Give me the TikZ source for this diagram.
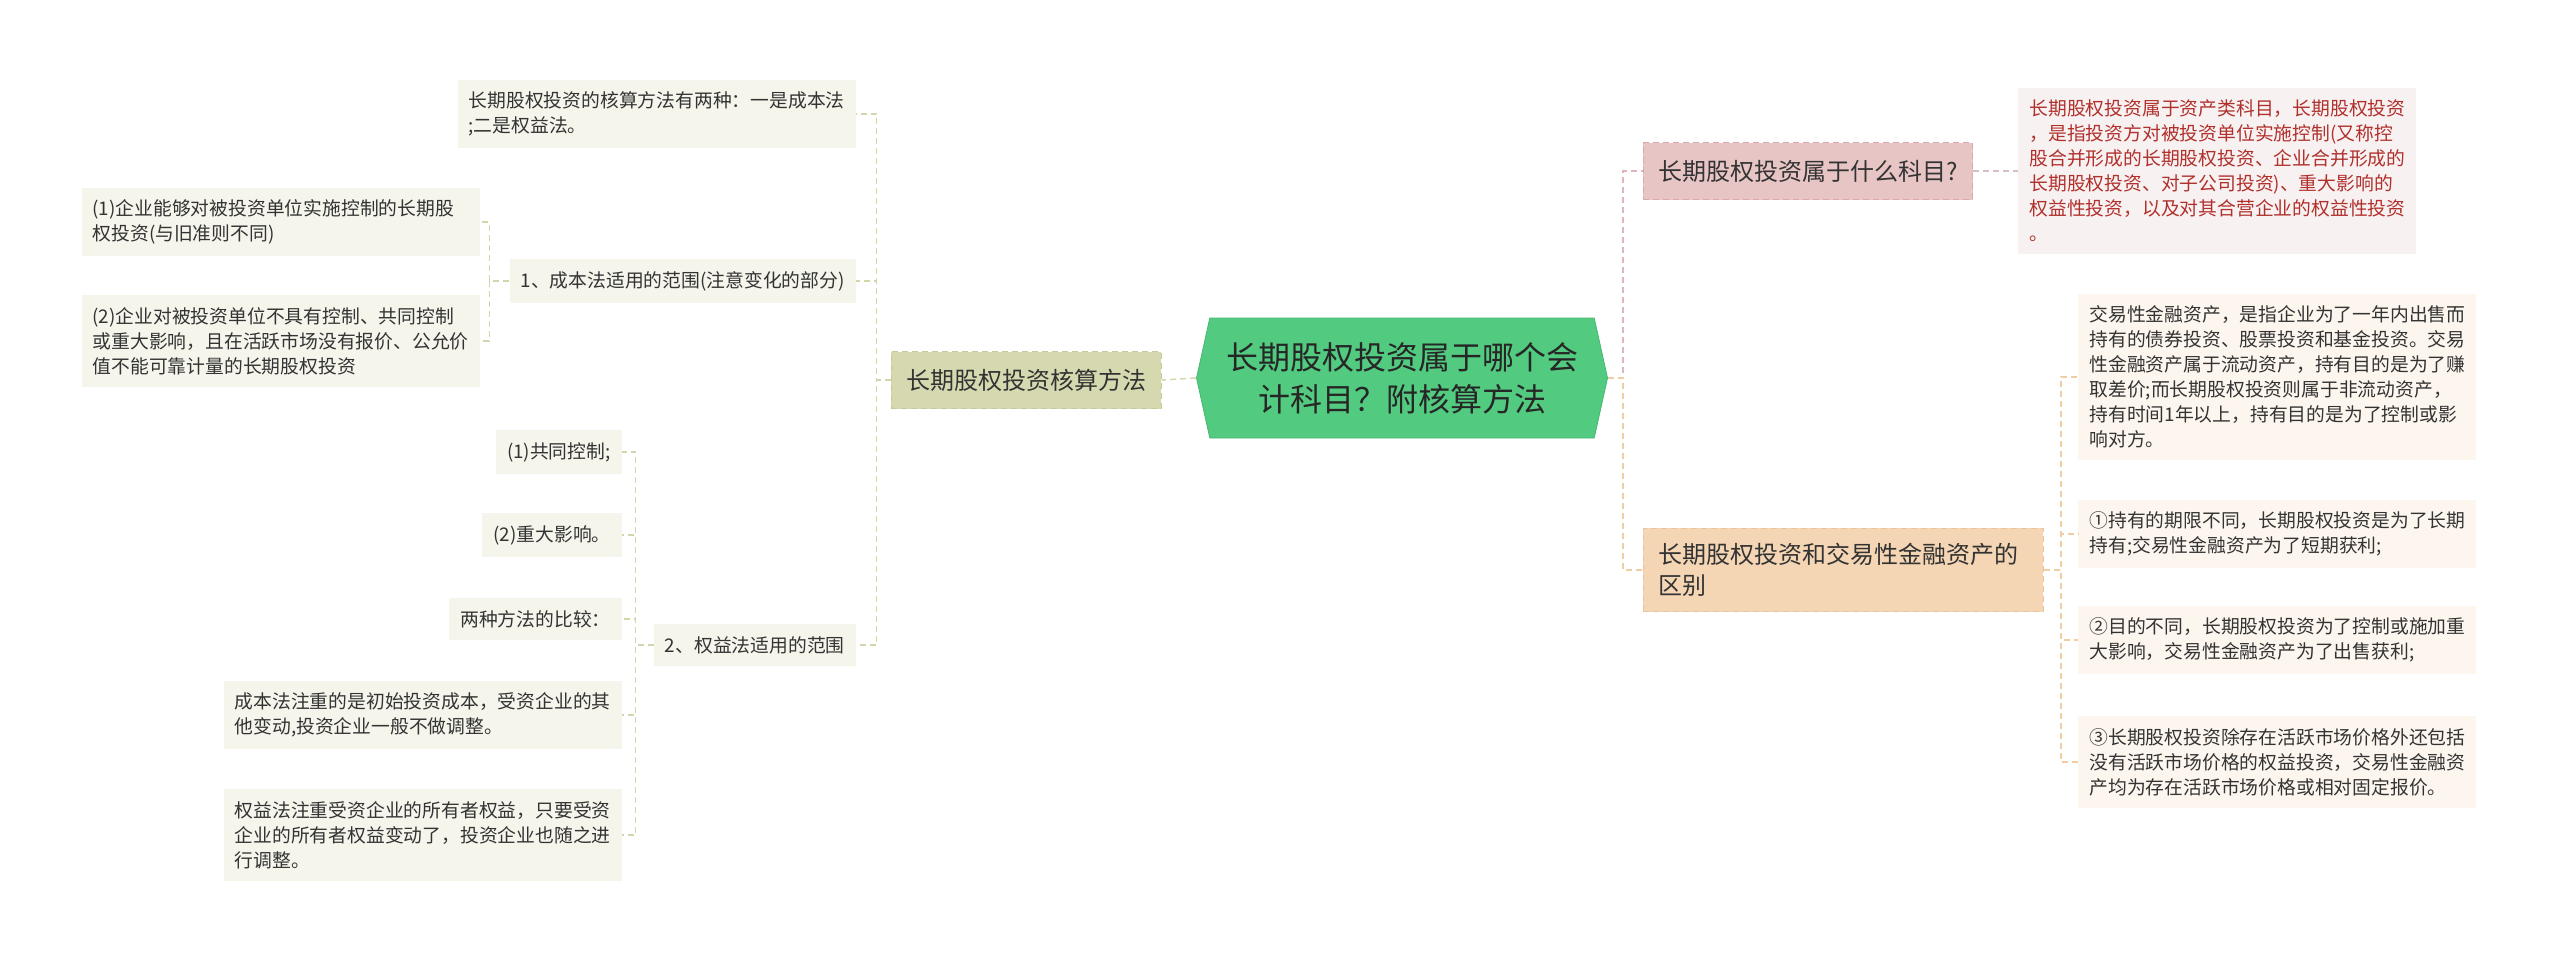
\documentclass[tikz,border=0pt]{standalone}
\usepackage{fontspec}
\setmainfont{Noto Sans CJK SC}
\usetikzlibrary{shapes.symbols}
\definecolor{ctrfill}{HTML}{52CA80}
\definecolor{ctrline}{HTML}{46B873}
\definecolor{olvfill}{HTML}{D6D9B0}
\definecolor{olvline}{HTML}{C6C99A}
\definecolor{oleaf}{HTML}{F5F5EC}
\definecolor{pnkfill}{HTML}{E8C5C5}
\definecolor{pnkline}{HTML}{D8A8AC}
\definecolor{rleaf}{HTML}{F8F1F1}
\definecolor{rtext}{HTML}{B0302C}
\definecolor{orgfill}{HTML}{F4D5B4}
\definecolor{orgline}{HTML}{EBC299}
\definecolor{gleaf}{HTML}{FDF6EE}
\definecolor{wireO}{HTML}{D3D6AB}
\definecolor{wireP}{HTML}{E0B6B9}
\definecolor{wireR}{HTML}{D5C0C1}
\definecolor{wireG}{HTML}{F0CDA3}

\begin{document}
\begin{tikzpicture}[
    x=0.5pt, y=-0.5pt,
    nd/.style={rectangle, inner xsep=5.5pt, inner ysep=6pt, align=left, text=black!80,
        font=\fontsize{9.4pt}{12.5pt}\selectfont, dash pattern=on 3pt off 2pt},
    wide/.style={text width=188pt},
    ctr/.style={signal, signal to=west and east, signal pointer angle=155, fill=ctrfill, draw=ctrline,
        minimum width=205.5pt, minimum height=60pt, align=center, text=black!85,
        font=\fontsize{16pt}{21pt}\selectfont},
    olv/.style={nd, fill=olvfill, draw=olvline, inner xsep=7.5pt, minimum height=28.5pt,
        font=\fontsize{12pt}{15.5pt}\selectfont},
    pnk/.style={olv, fill=pnkfill, draw=pnkline},
    org/.style={olv, fill=orgfill, draw=orgline, inner ysep=7.5pt, text width=185pt},
    oleafs/.style={nd, fill=oleaf, minimum height=21pt},
    rleafs/.style={nd, fill=rleaf, text=rtext},
    gleafs/.style={nd, fill=gleaf, wide},
    wire/.style={line width=0.7pt, dash pattern=on 3pt off 2pt},
]
\useasboundingbox (0,0) rectangle (2560,964);

\node[ctr] (root) at (1402,378) {长期股权投资属于哪个会\\计科目？附核算方法};

\node[olv] (calc) at (1026,380) {长期股权投资核算方法};

\node[oleafs, anchor=east] (twoway) at (856,114) {长期股权投资的核算方法有两种：一是成本法\\;二是权益法。};
\node[oleafs, anchor=east] (costscope) at (856,281) {1、成本法适用的范围(注意变化的部分)};
\node[oleafs, anchor=east] (eqscope) at (856,645) {2、权益法适用的范围};

\node[oleafs, wide, anchor=east] (cost1) at (480,222) {(1)企业能够对被投资单位实施控制的长期股\\权投资(与旧准则不同)};
\node[oleafs, wide, anchor=east] (cost2) at (480,341) {(2)企业对被投资单位不具有控制、共同控制\\或重大影响，且在活跃市场没有报价、公允价\\值不能可靠计量的长期股权投资};

\node[oleafs, anchor=east] (eq1) at (622,452) {(1)共同控制;};
\node[oleafs, anchor=east] (eq2) at (622,535) {(2)重大影响。};
\node[oleafs, anchor=east] (cmp) at (622,619) {两种方法的比较：};
\node[oleafs, wide, anchor=east] (cmpcost) at (622,715) {成本法注重的是初始投资成本，受资企业的其\\他变动,投资企业一般不做调整。};
\node[oleafs, wide, anchor=east] (cmpeq) at (622,835) {权益法注重受资企业的所有者权益，只要受资\\企业的所有者权益变动了，投资企业也随之进\\行调整。};

\node[pnk, anchor=west] (subj) at (1643,171) {长期股权投资属于什么科目?};
\node[rleafs, wide, anchor=west] (subjtxt) at (2018,171) {长期股权投资属于资产类科目，长期股权投资\\，是指投资方对被投资单位实施控制(又称控\\股合并形成的长期股权投资、企业合并形成的\\长期股权投资、对子公司投资)、重大影响的\\权益性投资，以及对其合营企业的权益性投资\\。};

\node[org, anchor=west] (diff) at (1643,570) {长期股权投资和交易性金融资产的\\区别};
\node[gleafs, anchor=west] (trade) at (2078,377) {交易性金融资产，是指企业为了一年内出售而\\持有的债券投资、股票投资和基金投资。交易\\性金融资产属于流动资产，持有目的是为了赚\\取差价;而长期股权投资则属于非流动资产，\\持有时间1年以上，持有目的是为了控制或影\\响对方。};
\node[gleafs, anchor=west] (diff1) at (2078,534) {①持有的期限不同，长期股权投资是为了长期\\持有;交易性金融资产为了短期获利;};
\node[gleafs, anchor=west] (diff2) at (2078,640) {②目的不同，长期股权投资为了控制或施加重\\大影响，交易性金融资产为了出售获利;};
\node[gleafs, anchor=west] (diff3) at (2078,762) {③长期股权投资除存在活跃市场价格外还包括\\没有活跃市场价格的权益投资，交易性金融资\\产均为存在活跃市场价格或相对固定报价。};

\draw[wire, wireO] (root.west) -- (calc.east);
\foreach \k in {twoway, costscope, eqscope}
    \draw[wire, wireO] (calc.west) -- ++(-14,0) |- (\k.east);
\foreach \k in {cost1, cost2}
    \draw[wire, wireO] (costscope.west) -- ++(-20,0) |- (\k.east);
\foreach \k in {eq1, eq2, cmp, cmpcost, cmpeq}
    \draw[wire, wireO] (eqscope.west) -- ++(-18,0) |- (\k.east);

\draw[wire, wireP] (root.east) -- ++(15,0) |- (subj.west);
\draw[wire, wireG] (root.east) -- ++(15,0) |- (diff.west);
\draw[wire, wireR] (subj.east) -- (subjtxt.west);
\foreach \k in {trade, diff1, diff2, diff3}
    \draw[wire, wireG] (diff.east) -- ++(17,0) |- (\k.west);

\end{tikzpicture}
\end{document}
